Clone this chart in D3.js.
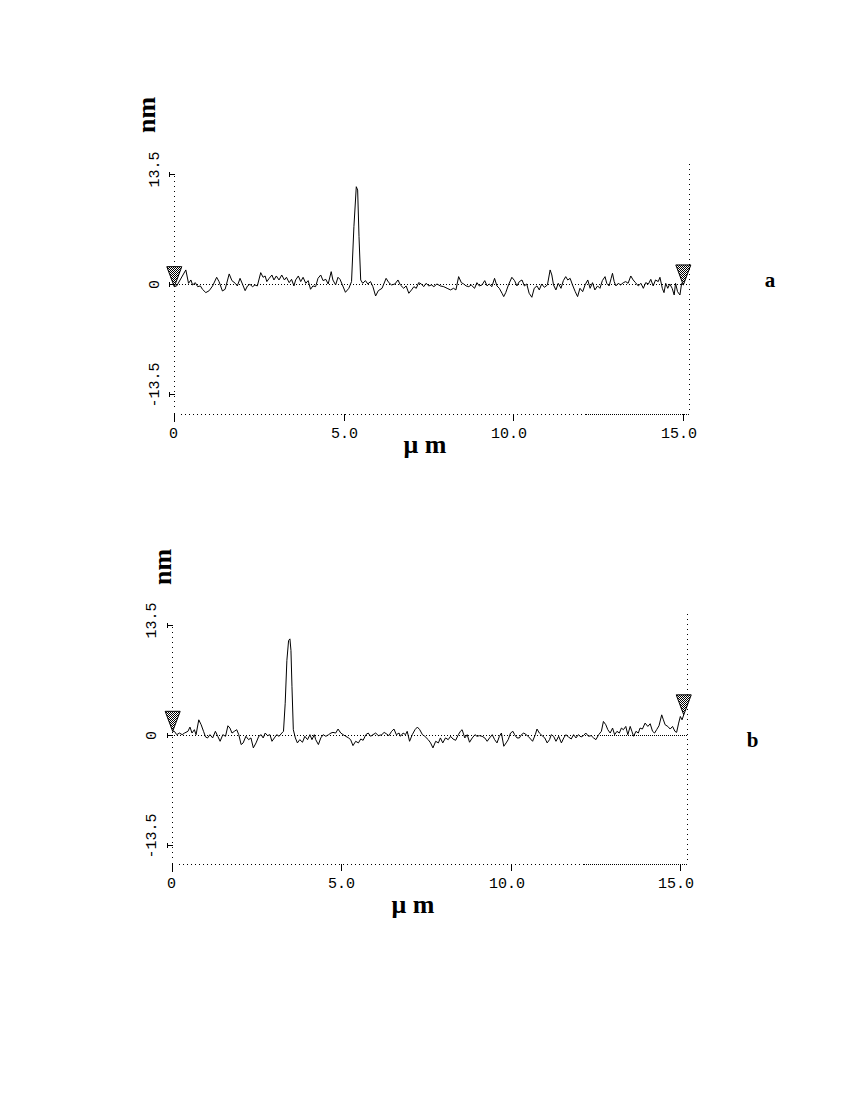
<!DOCTYPE html>
<html><head><meta charset="utf-8">
<script src="https://cdn.jsdelivr.net/npm/d3@7"></script>
<style>body{margin:0;background:#fff}svg{display:block}</style>
</head><body>
<svg id="c" width="850" height="1100"></svg>
<script>
// ---------- data (µm, nm) ----------
const xTicks = [0, 5, 10, 15];
const xTickLabels = ["0", "5.0", "10.0", "15.0"];
const yTicks = [13.5, 0, -13.5];
const yTickLabels = ["13.5", "0", "-13.5"];
const yTitle = "nm";
const xTitle = "\u03bc m";
const panelLabels = ["a", "b"];

const profileA = [[0.00,-0.29],[0.07,-0.20],[0.34,1.76],[0.42,0.12],[0.49,0.53],[0.54,-0.08],[0.62,0.20],[0.69,-0.29],[0.77,-0.20],[0.83,-0.61],[0.93,-1.02],[1.03,-0.78],[1.13,-0.20],[1.25,0.86],[1.32,0.33],[1.42,-0.82],[1.50,-0.61],[1.62,1.27],[1.70,0.45],[1.80,0.12],[1.86,-0.20],[1.94,0.73],[2.01,0.04],[2.09,-0.78],[2.16,-0.20],[2.23,0.00],[2.31,-0.29],[2.38,-0.08],[2.45,-0.20],[2.55,1.43],[2.62,0.86],[2.68,1.02],[2.73,0.33],[2.80,0.73],[2.88,1.14],[2.94,0.53],[3.01,1.02],[3.09,0.53],[3.17,1.14],[3.25,0.53],[3.31,0.86],[3.39,0.20],[3.46,0.61],[3.53,-0.20],[3.58,0.53],[3.66,1.02],[3.73,0.33],[3.80,0.86],[3.88,0.12],[3.95,0.45],[4.02,-0.61],[4.09,-0.20],[4.17,-0.29],[4.24,0.73],[4.32,1.14],[4.39,0.45],[4.47,0.61],[4.54,0.04],[4.63,1.55],[4.68,0.53],[4.76,-0.08],[4.83,0.86],[4.89,0.61],[4.96,-0.08],[5.05,-0.98],[5.15,-0.49],[5.23,0.33],[5.30,7.06],[5.37,11.96],[5.41,11.55],[5.45,5.84],[5.50,0.53],[5.56,0.12],[5.64,0.45],[5.71,0.04],[5.79,0.33],[5.86,-0.29],[5.94,-1.43],[6.02,-0.78],[6.13,-0.49],[6.25,0.73],[6.33,0.20],[6.41,-0.08],[6.51,0.04],[6.60,0.53],[6.67,-0.08],[6.77,-0.49],[6.84,-0.20],[6.92,-1.10],[7.00,-0.69],[7.07,-0.29],[7.14,-0.49],[7.21,0.20],[7.29,0.04],[7.36,-0.29],[7.43,0.12],[7.51,-0.20],[7.59,-0.08],[7.66,-0.29],[7.75,0.04],[7.85,-0.20],[7.95,-0.29],[8.05,-0.49],[8.15,-0.69],[8.24,-0.49],[8.31,-0.69],[8.39,0.94],[8.47,0.20],[8.54,0.04],[8.61,-0.20],[8.69,-0.29],[8.76,-0.08],[8.86,-0.49],[8.93,0.20],[9.00,-0.20],[9.08,-0.08],[9.16,0.45],[9.23,-0.20],[9.29,0.04],[9.37,-0.29],[9.45,0.73],[9.52,-0.20],[9.59,-0.49],[9.67,-1.10],[9.72,-1.51],[9.78,-1.02],[9.86,-0.08],[9.96,0.86],[10.04,0.45],[10.11,-0.20],[10.18,0.33],[10.26,0.53],[10.33,-0.20],[10.40,0.04],[10.47,-1.10],[10.55,-1.59],[10.62,-0.49],[10.70,-0.20],[10.77,-0.69],[10.84,0.04],[10.92,-0.37],[11.01,-0.08],[11.09,1.76],[11.14,1.14],[11.19,-0.08],[11.26,-0.69],[11.33,0.12],[11.41,-0.49],[11.48,0.45],[11.55,0.94],[11.61,0.53],[11.68,0.73],[11.75,-0.08],[11.83,-0.90],[11.90,-1.51],[11.97,-0.49],[12.05,-0.90],[12.12,-0.08],[12.20,0.53],[12.27,-0.49],[12.34,0.20],[12.41,-0.69],[12.49,-0.20],[12.56,-0.49],[12.63,0.45],[12.71,0.94],[12.76,0.12],[12.83,-0.20],[12.89,0.73],[12.93,1.35],[12.98,0.33],[13.03,-0.20],[13.10,0.12],[13.17,-0.08],[13.25,0.20],[13.32,0.33],[13.39,0.12],[13.47,1.02],[13.54,0.53],[13.61,0.20],[13.69,-0.20],[13.77,0.12],[13.84,-0.49],[13.91,0.20],[13.99,0.04],[14.06,0.61],[14.13,-0.20],[14.20,0.53],[14.28,0.33],[14.33,0.86],[14.40,-0.49],[14.45,-1.02],[14.50,0.12],[14.56,-0.49],[14.62,0.04],[14.69,-0.49],[14.75,-1.31],[14.79,0.12],[14.85,-0.90],[14.92,-1.31],[14.97,0.12],[15.02,-0.08]];

const profileB = [[0.02,0.45],[0.07,0.45],[0.14,0.04],[0.22,0.24],[0.30,0.04],[0.37,0.24],[0.47,0.45],[0.53,0.97],[0.59,0.24],[0.66,0.65],[0.71,0.04],[0.79,1.86],[0.86,1.26],[0.93,0.45],[0.99,-0.24],[1.05,-0.36],[1.12,0.04],[1.20,-0.36],[1.28,0.45],[1.35,-0.16],[1.42,-0.77],[1.50,0.04],[1.58,-0.16],[1.65,1.13],[1.71,0.85],[1.77,0.24],[1.84,0.45],[1.91,0.65],[1.97,0.04],[2.04,-1.17],[2.10,-0.97],[2.18,-0.16],[2.26,-0.57],[2.33,-0.36],[2.40,-1.58],[2.48,-0.97],[2.56,-0.16],[2.63,0.04],[2.69,-0.36],[2.75,0.24],[2.82,-0.08],[2.89,0.04],[2.95,-0.77],[3.02,-0.36],[3.09,0.04],[3.16,-0.16],[3.24,0.24],[3.29,0.45],[3.34,3.89],[3.39,9.15],[3.44,11.58],[3.48,11.78],[3.51,10.36],[3.54,5.91],[3.58,0.65],[3.64,-0.36],[3.70,-0.97],[3.77,-0.57],[3.85,-0.89],[3.92,-0.16],[4.00,-0.57],[4.07,0.04],[4.13,-0.57],[4.20,0.04],[4.24,-0.57],[4.32,-1.17],[4.39,-0.36],[4.46,0.04],[4.54,-0.16],[4.62,0.04],[4.69,0.24],[4.75,0.32],[4.83,0.24],[4.90,0.73],[4.98,0.24],[5.05,0.04],[5.13,-0.16],[5.21,-0.36],[5.27,-0.57],[5.34,-1.30],[5.42,-0.77],[5.50,-0.97],[5.57,-0.49],[5.64,-0.65],[5.72,0.04],[5.79,0.24],[5.86,-0.16],[5.93,0.04],[6.01,0.24],[6.09,-0.08],[6.19,0.04],[6.26,0.32],[6.32,0.16],[6.40,-0.08],[6.48,0.45],[6.55,0.73],[6.62,0.04],[6.70,0.24],[6.74,-0.16],[6.82,0.24],[6.89,0.04],[6.94,0.45],[7.01,-0.77],[7.09,0.04],[7.17,0.65],[7.24,0.97],[7.31,0.65],[7.39,0.04],[7.46,-0.16],[7.56,-0.57],[7.63,-0.97],[7.70,-1.58],[7.78,-0.77],[7.86,-0.97],[7.92,-0.36],[7.99,-0.97],[8.07,-0.36],[8.15,-0.57],[8.22,-0.16],[8.29,-0.49],[8.37,-0.65],[8.45,0.04],[8.51,0.45],[8.56,0.65],[8.64,-0.36],[8.71,0.04],[8.78,-0.89],[8.86,-0.36],[8.94,0.04],[9.00,-0.16],[9.07,-0.08],[9.15,-0.16],[9.23,-0.36],[9.30,-0.77],[9.37,-0.36],[9.45,0.04],[9.52,-0.57],[9.59,-0.97],[9.66,-0.16],[9.72,0.24],[9.79,-1.38],[9.86,-0.97],[9.92,-0.57],[9.99,0.24],[10.06,0.45],[10.11,0.04],[10.18,-0.36],[10.25,-0.36],[10.31,0.04],[10.38,0.24],[10.45,0.04],[10.51,-0.16],[10.58,-0.49],[10.64,-0.77],[10.72,0.04],[10.77,0.73],[10.84,0.24],[10.92,-0.08],[11.00,-0.36],[11.07,-0.97],[11.14,-0.57],[11.19,0.04],[11.26,-0.16],[11.33,-0.77],[11.41,-0.16],[11.49,-0.97],[11.56,-0.36],[11.62,0.04],[11.70,-0.24],[11.78,-0.49],[11.85,0.04],[11.92,-0.36],[11.99,0.04],[12.07,-0.24],[12.14,-0.08],[12.21,0.24],[12.29,-0.16],[12.37,-0.08],[12.44,-0.36],[12.51,-0.57],[12.59,0.04],[12.67,0.45],[12.73,1.66],[12.80,1.26],[12.86,0.65],[12.93,0.24],[13.00,0.85],[13.06,0.04],[13.13,0.45],[13.20,0.24],[13.26,0.85],[13.32,0.65],[13.39,1.05],[13.45,0.04],[13.52,1.05],[13.57,0.45],[13.62,-0.16],[13.69,0.45],[13.76,0.24],[13.81,0.85],[13.88,0.73],[13.96,1.46],[14.04,1.05],[14.11,1.38],[14.18,0.45],[14.24,0.24],[14.30,0.65],[14.37,1.13],[14.45,2.47],[14.50,1.86],[14.55,1.26],[14.63,1.05],[14.70,0.73],[14.77,1.05],[14.84,0.45],[14.89,0.32],[14.95,1.46],[15.00,2.27],[15.05,1.86],[15.10,2.47]];

const markersA = [0.00, 15.02];
const markersB = [0.02, 15.10];

// ---------- layout ----------
const PX_UM = 33.89, PX_NM = 8.16;
const X_END = 15.19, Y_BOTTOM = -15.85, Y_TOP = 14.8, DENSE_AXIS_FROM = 12.15;
const panels = [
  {data: profileA, markers: markersA, label: panelLabels[0], x0: 174.3, y0: 284.3,
   denseZeroFrom: null, yTitlePos: [149, 115], xTitlePos: [425, 453], labelPos: [770, 287]},
  {data: profileB, markers: markersB, label: panelLabels[1], x0: 172, y0: 735,
   denseZeroFrom: 12.63, yTitlePos: [165, 567], xTitlePos: [413, 913], labelPos: [752.5, 747]}
];

const svg = d3.select("#c");
const defs = svg.append("defs");
const pat = defs.append("pattern").attr("id", "stip").attr("width", 2).attr("height", 2)
  .attr("patternUnits", "userSpaceOnUse");
pat.append("rect").attr("width", 2).attr("height", 2).attr("fill", "#fff");
pat.append("rect").attr("width", 1).attr("height", 1).attr("fill", "#000");
pat.append("rect").attr("x", 1).attr("y", 1).attr("width", 1).attr("height", 1).attr("fill", "#000");

const h = v => Math.round(v) + 0.5;   // pixel centre (across a line)
const r = v => Math.round(v);         // pixel edge (along a dotted line)
const MONO = "'Liberation Mono','DejaVu Sans Mono',monospace";
const SERIF = "'Liberation Serif','Times New Roman',serif";

function hDots(g, x1, x2, yy, dash) {
  g.append("line").attr("x1", r(x1)).attr("x2", r(x2)).attr("y1", h(yy)).attr("y2", h(yy))
    .attr("stroke", "#000").attr("stroke-dasharray", dash).attr("shape-rendering", "crispEdges");
}
function vDots(g, xx, y1, y2, dash) {
  g.append("line").attr("x1", h(xx)).attr("x2", h(xx)).attr("y1", r(y1)).attr("y2", r(y2))
    .attr("stroke", "#000").attr("stroke-dasharray", dash).attr("shape-rendering", "crispEdges");
}

panels.forEach(p => {
  const x = d3.scaleLinear().domain([0, 15]).range([p.x0, p.x0 + 15 * PX_UM]);
  const y = d3.scaleLinear().domain([-13.5, 13.5]).range([p.y0 + 13.5 * PX_NM, p.y0 - 13.5 * PX_NM]);
  const g = svg.append("g");
  const axYv = y(Y_BOTTOM), axY = h(axYv);

  // dotted frame
  vDots(g, x(0), y(13.5) + 2, axYv - 4, "1,4");
  vDots(g, x(X_END), y(Y_TOP), axYv, "1,4");
  hDots(g, x(0) + 7, x(DENSE_AXIS_FROM), axYv, "1,3");
  hDots(g, x(DENSE_AXIS_FROM), x(X_END), axYv, "1,1");

  // zero reference line
  const zEnd = p.denseZeroFrom == null ? x(X_END) : x(p.denseZeroFrom);
  hDots(g, x(0) + 2, zEnd, y(0), "1,2");
  if (p.denseZeroFrom != null) hDots(g, zEnd, x(X_END), y(0), "1,1");

  const lx = h(x(0));
  // x ticks and labels
  xTicks.forEach((t, i) => {
    const tx = h(x(t));
    g.append("line").attr("x1", tx).attr("x2", tx)
      .attr("y1", axY - (t === 0 ? 2 : 1)).attr("y2", axY + (t === 0 ? 7 : 6))
      .attr("stroke", "#000").attr("shape-rendering", "crispEdges");
    const lab = xTickLabels[i];
    const di = lab.indexOf(".");
    const tt = g.append("text").attr("y", axY + 23.5).attr("font-family", MONO)
      .attr("font-size", 15).attr("fill", "#000").text(lab);
    if (di < 0) tt.attr("x", tx - 1).attr("text-anchor", "middle");
    else tt.attr("x", tx - (di + 0.5) * 9).attr("text-anchor", "start");
  });

  // y ticks and labels
  yTicks.forEach((t, i) => {
    const ty = h(y(t));
    g.append("path").attr("d", `M${lx - 5},${ty - 2.5}V${ty + 2.5}M${lx - 5},${ty}H${lx}`)
      .attr("stroke", "#000").attr("fill", "none").attr("shape-rendering", "crispEdges");
    const lab = yTickLabels[i];
    const isZero = lab === "0";
    const cy = isZero ? ty : ty + 13;
    g.append("text").attr("transform", `translate(${p.x0 - 20.5},${cy}) rotate(-90)`)
      .attr("text-anchor", isZero ? "middle" : "start").attr("dy", "0.33em")
      .attr("font-family", MONO).attr("font-size", 15).attr("fill", "#000").text(lab);
  });

  // profile
  const line = d3.line().x(d => x(d[0])).y(d => y(d[1]));
  g.append("path").datum(p.data).attr("d", line).attr("fill", "none")
    .attr("stroke", "#000").attr("stroke-width", 1);

  // cursor markers
  p.markers.forEach(m => {
    const pt = d3.least(p.data, d => Math.abs(d[0] - m));
    const cx = x(m), tip = y(pt[1]);
    g.append("path").attr("d", `M${cx - 7.5},${tip - 20}L${cx + 7.5},${tip - 20}L${cx},${tip}Z`)
      .attr("fill", "url(#stip)").attr("stroke", "#000").attr("stroke-width", 1);
  });

  // titles
  g.append("text").attr("transform", `translate(${p.yTitlePos[0]},${p.yTitlePos[1]}) rotate(-90)`)
    .attr("text-anchor", "middle").attr("dy", "0.23em")
    .attr("font-family", SERIF).attr("font-weight", "bold").attr("font-size", 26).text(yTitle);
  g.append("text").attr("x", p.xTitlePos[0]).attr("y", p.xTitlePos[1]).attr("text-anchor", "middle")
    .attr("font-family", SERIF).attr("font-weight", "bold").attr("font-size", 26).text(xTitle);
  g.append("text").attr("x", p.labelPos[0]).attr("y", p.labelPos[1]).attr("text-anchor", "middle")
    .attr("font-family", SERIF).attr("font-weight", "bold").attr("font-size", 21).text(p.label);
});
</script>
</body></html>
